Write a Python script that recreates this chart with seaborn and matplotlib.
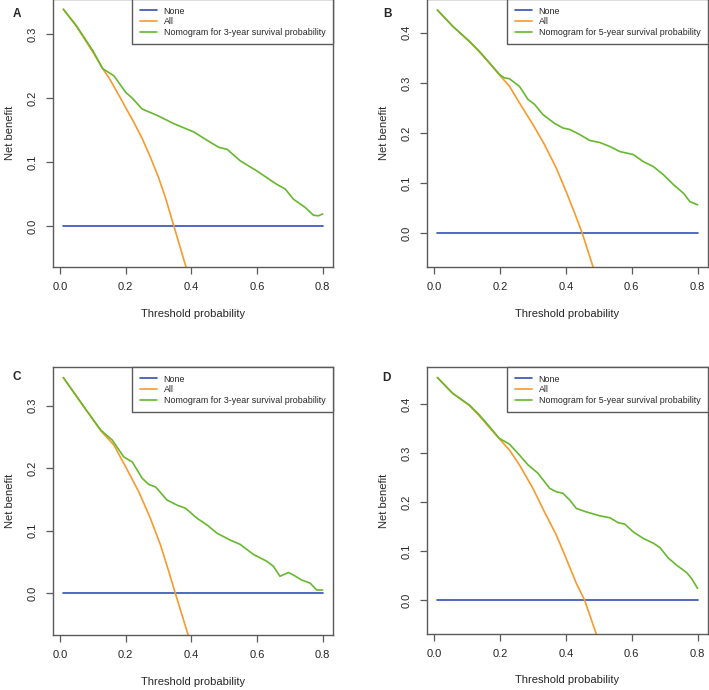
import matplotlib
matplotlib.use("Agg")
import matplotlib.pyplot as plt
import seaborn as sns
import pandas as pd

sns.set_style("white")
plt.rcParams['font.family'] = ['Liberation Sans', 'DejaVu Sans']

# ---- data (decision curves) ----
nomo3 = 'Nomogram for 3-year survival probability'
nomo5 = 'Nomogram for 5-year survival probability'

none_x = [0.01, 0.8]
none_y = [0.0, 0.0]

# panel A
a_all_x = [0.01, 0.05, 0.10, 0.13, 0.15, 0.184, 0.20, 0.225, 0.25, 0.275, 0.30, 0.32, 0.345, 0.39]
a_all_y = [0.339, 0.312, 0.272, 0.246, 0.231, 0.200, 0.185, 0.162, 0.137, 0.108, 0.076, 0.046,
           0.003, -0.075]
a_nom_x = [0.01, 0.05, 0.10, 0.13, 0.164, 0.20, 0.22, 0.25, 0.296, 0.347, 0.408, 0.448,
           0.484, 0.509, 0.549, 0.60, 0.661, 0.686, 0.711, 0.747, 0.772, 0.787, 0.80]
a_nom_y = [0.339, 0.313, 0.274, 0.246, 0.235, 0.209, 0.200, 0.183, 0.173, 0.160, 0.147, 0.134,
           0.123, 0.120, 0.102, 0.086, 0.065, 0.058, 0.042, 0.029, 0.017, 0.016, 0.019]

# panel B
b_all_x = [0.01, 0.056, 0.107, 0.137, 0.168, 0.198, 0.229, 0.259, 0.30, 0.335, 0.371,
           0.401, 0.427, 0.45, 0.488]
b_all_y = [0.445, 0.413, 0.382, 0.362, 0.339, 0.316, 0.293, 0.260, 0.217, 0.177, 0.130,
           0.083, 0.040, 0.0, -0.078]
b_nom_x = [0.01, 0.056, 0.107, 0.137, 0.168, 0.198, 0.213, 0.229, 0.259, 0.285, 0.305,
           0.33, 0.366, 0.391, 0.412, 0.442, 0.473, 0.503, 0.534, 0.564, 0.605, 0.635,
           0.666, 0.696, 0.727, 0.757, 0.777, 0.80]
b_nom_y = [0.445, 0.413, 0.383, 0.363, 0.340, 0.317, 0.310, 0.308, 0.293, 0.267, 0.257,
           0.237, 0.219, 0.210, 0.207, 0.197, 0.185, 0.181, 0.173, 0.163, 0.157, 0.143,
           0.133, 0.117, 0.097, 0.080, 0.063, 0.057]

# panel C
c_all_x = [0.01, 0.073, 0.124, 0.164, 0.20, 0.24, 0.275, 0.306, 0.331, 0.351, 0.395]
c_all_y = [0.345, 0.298, 0.260, 0.237, 0.202, 0.162, 0.120, 0.077, 0.035, 0.0, -0.075]
c_nom_x = [0.01, 0.073, 0.124, 0.159, 0.194, 0.22, 0.25, 0.27, 0.291, 0.326, 0.356, 0.382,
           0.417, 0.448, 0.478, 0.518, 0.549, 0.589, 0.63, 0.65, 0.67, 0.696, 0.711,
           0.736, 0.762, 0.782, 0.80]
c_nom_y = [0.345, 0.298, 0.261, 0.245, 0.218, 0.210, 0.184, 0.174, 0.170, 0.149, 0.141, 0.136,
           0.120, 0.109, 0.096, 0.085, 0.078, 0.062, 0.051, 0.043, 0.027, 0.033, 0.029,
           0.021, 0.016, 0.005, 0.005]

# panel D
d_all_x = [0.01, 0.056, 0.107, 0.137, 0.168, 0.198, 0.229, 0.259, 0.30, 0.335, 0.371,
           0.401, 0.432, 0.457, 0.498]
d_all_y = [0.454, 0.422, 0.397, 0.376, 0.352, 0.329, 0.306, 0.276, 0.228, 0.180, 0.133,
           0.085, 0.034, 0.0, -0.080]
d_nom_x = [0.01, 0.056, 0.107, 0.137, 0.168, 0.198, 0.229, 0.259, 0.285, 0.315, 0.351,
           0.371, 0.391, 0.412, 0.432, 0.462, 0.503, 0.534, 0.559, 0.579, 0.605, 0.635,
           0.666, 0.686, 0.711, 0.737, 0.767, 0.782, 0.80]
d_nom_y = [0.454, 0.422, 0.398, 0.378, 0.354, 0.330, 0.318, 0.296, 0.276, 0.259, 0.228,
           0.221, 0.218, 0.204, 0.187, 0.180, 0.172, 0.168, 0.158, 0.155, 0.139, 0.126,
           0.116, 0.107, 0.086, 0.071, 0.056, 0.044, 0.024]

panels = [
    ('A', a_all_x, a_all_y, a_nom_x, a_nom_y, nomo3, (-0.064, 0.355), [0.0, 0.1, 0.2, 0.3]),
    ('B', b_all_x, b_all_y, b_nom_x, b_nom_y, nomo5, (-0.067, 0.467), [0.0, 0.1, 0.2, 0.3, 0.4]),
    ('C', c_all_x, c_all_y, c_nom_x, c_nom_y, nomo3, (-0.067, 0.362), [0.0, 0.1, 0.2, 0.3]),
    ('D', d_all_x, d_all_y, d_nom_x, d_nom_y, nomo5, (-0.069, 0.4755), [0.0, 0.1, 0.2, 0.3, 0.4]),
]

col_none = '#3450b4'
col_all = '#f89a2e'
col_nom = '#66b82e'
edge = '#5a5a5a'

W, H = 709, 690
fig = plt.figure(figsize=(W / 100, H / 100), dpi=100)

# axes boxes in pixels (left, top, right, bottom)
boxes = [(53, -1, 333, 267), (427, -1, 708, 267), (53, 367, 333, 635), (427, 367, 708, 634)]
letter_pos = [(17, 14), (387, 14), (17, 377), (386, 378)]

for (name, ax_, ay_, nx_, ny_, nlab, ylim, yticks), box, lp in zip(panels, boxes, letter_pos):
    l, t, r, b = box
    ax = fig.add_axes([l / W, 1 - b / H, (r - l) / W, (b - t) / H])

    df = pd.concat([
        pd.DataFrame({'x': none_x, 'y': none_y, 'curve': 'None'}),
        pd.DataFrame({'x': ax_, 'y': ay_, 'curve': 'All'}),
        pd.DataFrame({'x': nx_, 'y': ny_, 'curve': nlab}),
    ], ignore_index=True)

    sns.lineplot(data=df, x='x', y='y', hue='curve', hue_order=['None', 'All', nlab],
                 palette=[col_none, col_all, col_nom], estimator=None, sort=False,
                 linewidth=1.2, ax=ax)

    ax.set_xlim(-0.0216, 0.8316)
    ax.set_ylim(*ylim)
    ax.set_xticks([0.0, 0.2, 0.4, 0.6, 0.8])
    ax.set_xticklabels(['0.0', '0.2', '0.4', '0.6', '0.8'])
    ax.set_yticks(yticks)
    ax.set_yticklabels([f'{v:.1f}' for v in yticks], rotation=90, va='center')

    for s in ax.spines.values():
        s.set_color(edge)
        s.set_linewidth(1.0)
    ax.tick_params(axis='both', direction='out', length=5, width=0.9, color=edge,
                   labelsize=8, pad=6, bottom=True, left=True)

    ax.set_xlabel('Threshold probability', fontsize=8)
    ax.set_ylabel('Net benefit', fontsize=8)
    ax.xaxis.set_label_coords(0.5, -0.155)
    ax.yaxis.set_label_coords(-0.135, 0.5)

    handles, _ = ax.get_legend_handles_labels()
    leg = ax.legend(handles, ['None', 'All', nlab], loc='upper right', bbox_to_anchor=(1, 1),
                    borderaxespad=0, fontsize=6.4, frameon=True, fancybox=False,
                    framealpha=1, edgecolor=edge, handlelength=1.9, handletextpad=0.8,
                    labelspacing=0.18, borderpad=0.85)
    leg.get_frame().set_linewidth(1.0)

    fig.text(lp[0] / W, 1 - lp[1] / H, name, ha='center', va='center',
             fontsize=8.5, fontweight='bold')

fig.savefig('out.png', dpi=100)
